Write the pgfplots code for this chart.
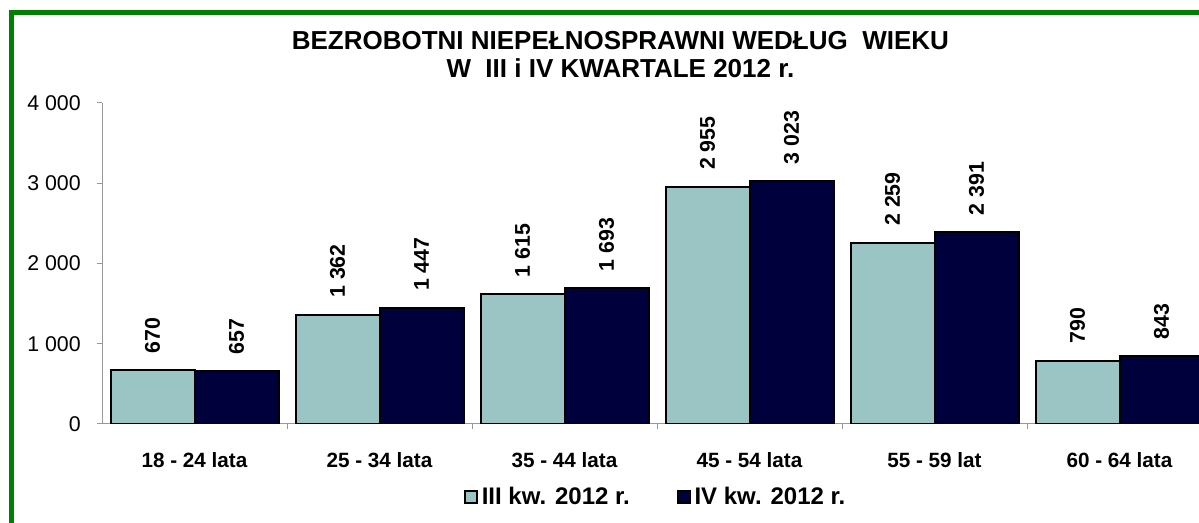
\documentclass[border=0pt]{standalone}
\usepackage{fontspec}
\setmainfont{Liberation Sans}
\usepackage{pgfplots}
\pgfplotsset{compat=1.18}
\definecolor{kwIII}{RGB}{155,196,196}
\definecolor{kwIV}{RGB}{0,0,60}
\definecolor{ramka}{RGB}{0,128,0}

\begin{document}
\begin{tikzpicture}
% picture is 1199x523 px at 0.75pt per px; right part of the chart is cut off as in the source
\path[use as bounding box, clip] (0,0) rectangle (899.25pt,392.25pt);
\draw[ramka, line width=3.75pt] (8.25pt,-5pt) -- (8.25pt,382.5pt) -- (910pt,382.5pt);
\begin{axis}[
    at={(76.5pt,74.25pt)}, anchor=south west,
    scale only axis,
    width=832.5pt, height=240.75pt,
    xmin=-0.5, xmax=5.5, ymin=0, ymax=4000,
    ybar=0pt, bar width=63pt,
    axis x line*=bottom, axis y line*=left,
    axis line style={gray!80, line width=0.75pt, -},
    tick align=outside, major tick length=3.75pt,
    tick style={gray!80, line width=0.75pt},
    ytick={0,1000,2000,3000,4000},
    /pgf/number format/1000 sep={\ },
    /pgf/number format/assume math mode=true,
    yticklabel style={font=\fontsize{16}{18}\selectfont, inner sep=0pt, xshift=-12pt},
    xtick={0.5,1.5,2.5,3.5,4.5},
    xticklabels={},
    extra x ticks={0,1,2,3,4,5},
    extra x tick labels={18 - 24 lata, 25 - 34 lata, 35 - 44 lata, 45 - 54 lata, 55 - 59 lat, 60 - 64 lata},
    extra x tick style={major tick length=0pt,
        xticklabel style={font=\bfseries\fontsize{15.5}{18}\selectfont, anchor=center, yshift=-27pt}},
    title={BEZROBOTNI NIEPEŁNOSPRAWNI WEDŁUG~ WIEKU\\W~ III i IV KWARTALE 2012 r.},
    title style={at={(0.467,1.125)}, anchor=center, align=center,
        font=\bfseries\fontsize{19.5}{21}\selectfont},
    nodes near coords,
    nodes near coords style={rotate=90, anchor=west, inner xsep=12pt, inner ysep=0pt,
        font=\bfseries\fontsize{16}{18}\selectfont, text=black},
    legend columns=2,
    legend style={at={(0.499,-0.227)}, anchor=center, draw=none, fill=none,
        font=\bfseries\fontsize{18}{20}\selectfont,
        /tikz/every odd column/.append style={column sep=1pt},
        /tikz/every even column/.append style={column sep=33pt}},
    legend image code/.code={\draw[#1, draw=black, line width=1.5pt] (0pt,-4.5pt) rectangle (9pt,4.5pt);},
]
\addplot[fill=kwIII, draw=black, line width=1.5pt] coordinates {(0,670) (1,1362) (2,1615) (3,2955) (4,2259) (5,790)};
\addplot[fill=kwIV, draw=black, line width=1.5pt] coordinates {(0,657) (1,1447) (2,1693) (3,3023) (4,2391) (5,843)};
\legend{III kw. 2012 r., IV kw. 2012 r.}
\end{axis}
\end{tikzpicture}
\end{document}
